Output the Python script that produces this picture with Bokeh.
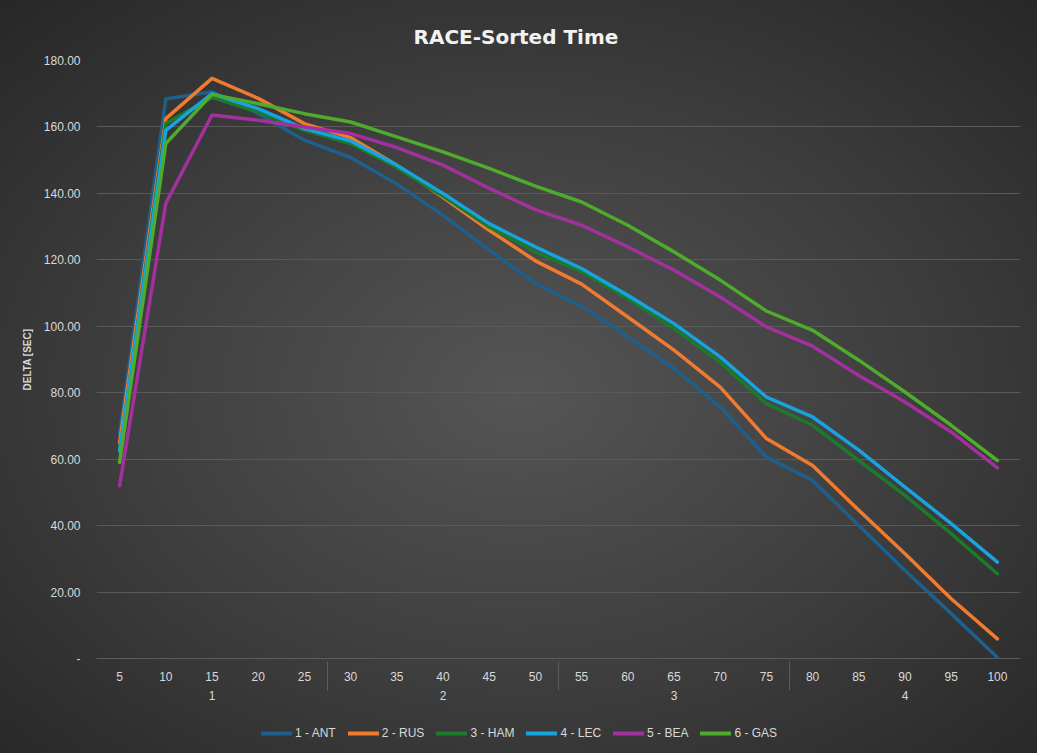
from bokeh.plotting import figure
from bokeh.layouts import column
from bokeh.models import FactorRange, FixedTicker, CustomJSTickFormatter, Legend, LegendItem, Range1d
from bokeh.embed import file_html
from bokeh.resources import INLINE

laps = [5, 10, 15, 20, 25, 30, 35, 40, 45, 50, 55, 60, 65, 70, 75, 80, 85, 90, 95, 100]
groups = ["1"] * 5 + ["2"] * 5 + ["3"] * 5 + ["4"] * 5

ant = [67.7, 168.4, 170.6, 164.0, 156.0, 150.8, 142.8, 133.4, 122.9, 112.9, 106.0, 96.8, 87.3, 75.7, 60.6, 53.6, 40.0, 26.5, 13.5, 0.3]
rus = [65.0, 162.5, 174.6, 168.6, 161.0, 156.8, 148.5, 138.8, 128.9, 119.7, 112.7, 102.8, 92.8, 81.7, 66.2, 58.1, 44.6, 31.5, 18.0, 5.9]
ham = [62.0, 161.0, 168.9, 164.5, 159.0, 155.0, 147.8, 139.2, 129.9, 122.4, 116.4, 108.3, 99.3, 89.2, 76.7, 70.2, 59.6, 49.1, 37.6, 25.5]
lec = [62.5, 159.0, 170.0, 165.5, 159.5, 155.8, 148.5, 140.0, 130.9, 123.9, 117.4, 109.3, 100.8, 90.8, 78.7, 72.7, 62.7, 51.6, 40.6, 29.0]
bea = [52.0, 137.0, 163.6, 162.0, 160.0, 158.0, 153.8, 148.5, 141.5, 135.1, 130.4, 123.9, 116.9, 108.8, 99.8, 94.0, 85.2, 77.2, 68.2, 57.4]
gas = [59.0, 155.0, 169.8, 167.0, 164.0, 161.5, 157.0, 152.5, 147.5, 142.2, 137.4, 130.4, 122.4, 113.9, 104.6, 98.8, 89.8, 80.2, 70.2, 59.6]

series_names = ["1 - ANT", "2 - RUS", "3 - HAM", "4 - LEC", "5 - BEA", "6 - GAS"]
series_values = [ant, rus, ham, lec, bea, gas]
series_colors = ["#1f5f8c", "#f07b30", "#1b7a2c", "#18a2de", "#a2309d", "#4eab2c"]

y_ticks = [0, 20, 40, 60, 80, 100, 120, 140, 160, 180]

factors = [(g, str(l)) for g, l in zip(groups, laps)]

TXT = "#d9d9d9"
FONT = "Liberation Sans"
LW = 3.5

p = figure(
    x_range=FactorRange(*factors, factor_padding=0, group_padding=0, range_padding=0),
    y_range=(0, 180),
    width=1037, height=712,
    min_border_left=96, min_border_right=17, min_border_top=60, min_border_bottom=54,
    output_backend="svg", toolbar_location=None,
    title="RACE-Sorted Time",
)
p.border_fill_alpha = 0
p.background_fill_alpha = 0
p.outline_line_color = None

p.title.align = "left"
p.title.offset = 317
p.title.vertical_align = "top"
p.title.text_color = "#f2f2f2"
p.title.text_font = "DejaVu Sans"
p.title.text_font_size = "20px"
p.title.text_font_style = "bold"
p.title.standoff = 20

for vals, col in zip(series_values, series_colors):
    p.line(x=factors, y=vals, line_color=col, line_width=LW,
           line_cap="round", line_join="round")

p.yaxis.ticker = FixedTicker(ticks=y_ticks)
p.yaxis.formatter = CustomJSTickFormatter(code="return tick == 0 ? '-' : tick.toFixed(2);")
p.yaxis.axis_label = "DELTA [SEC]"
p.yaxis.axis_label_text_font = "Liberation Sans"
p.yaxis.axis_label_text_font_style = "bold"
p.yaxis.axis_label_text_font_size = "10px"
p.yaxis.axis_label_text_color = TXT
p.yaxis.axis_label_standoff = 8
p.yaxis.axis_line_color = None
p.yaxis.major_tick_line_color = None
p.yaxis.minor_tick_line_color = None
p.yaxis.major_label_text_color = TXT
p.yaxis.major_label_text_font = FONT
p.yaxis.major_label_text_font_size = "12px"
p.yaxis.major_label_standoff = 10

p.xaxis.axis_line_color = "#5c5c5c"
p.xaxis.major_tick_line_color = None
p.xaxis.minor_tick_line_color = None
p.xaxis.major_label_text_color = TXT
p.xaxis.major_label_text_font = FONT
p.xaxis.major_label_text_font_size = "12px"
p.xaxis.major_label_standoff = 7
p.xaxis.group_text_color = TXT
p.xaxis.group_text_font = FONT
p.xaxis.group_text_font_size = "12px"
p.xaxis.group_text_font_style = "normal"
p.xaxis.separator_line_color = "#5c5c5c"
p.xaxis.separator_line_width = 1

p.xgrid.grid_line_color = None
p.ygrid.grid_line_color = "#5a5a5a"
p.ygrid.grid_line_width = 1

# legend strip below the chart
lg = figure(width=1037, height=41, x_range=Range1d(0, 1), y_range=Range1d(0, 1),
            x_axis_location=None, y_axis_location=None,
            min_border=0, output_backend="svg", toolbar_location=None)
lg.grid.visible = False
lg.outline_line_color = None
lg.border_fill_alpha = 0
lg.background_fill_alpha = 0
items = []
for name, col in zip(series_names, series_colors):
    r = lg.line(x=[float("nan")], y=[float("nan")], line_color=col,
                line_width=LW + 0.5, line_cap="round")
    items.append(LegendItem(label=name, renderers=[r]))

legend = Legend(items=items, orientation="horizontal", location=(165, 13))
legend.label_text_color = TXT
legend.label_text_font = FONT
legend.label_text_font_size = "12px"
legend.glyph_width = 31
legend.glyph_height = 14
legend.label_height = 14
legend.label_standoff = 3
legend.spacing = 12
legend.border_line_color = None
legend.background_fill_alpha = 0
legend.margin = 0
legend.padding = 2
lg.add_layout(legend)

layout = column(p, lg, spacing=0)
layout.styles = {"background": "radial-gradient(ellipse 72% 72% at 50% 52%, #555555 0%, #3d3d3d 55%, #272727 100%)"}

open("out.html", "w").write(file_html(layout, INLINE))
